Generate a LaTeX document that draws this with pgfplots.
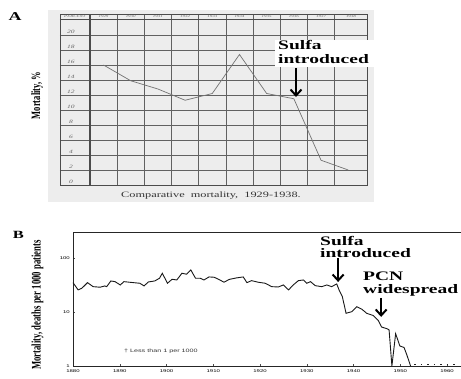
\documentclass[border=0pt]{standalone}
\usepackage{fontspec}
\setmainfont{Liberation Serif}
\newfontfamily\sansf{Liberation Sans}
\usepackage{graphicx}
\usepackage{pgfplots}
\pgfplotsset{compat=1.18}
\usetikzlibrary{arrows.meta}
\newcommand\hs[1]{\scalebox{1.5}[1]{#1}}
\newcommand\tl[1]{\scalebox{1.5}[1]{\sansf\fontsize{4}{4}\selectfont #1}}
\newcommand\al[1]{\scalebox{1.5}[1]{\fontsize{13}{13}\selectfont\bfseries #1}}
\newcommand\gl[1]{\scalebox{1.5}[1]{\fontsize{5}{5}\selectfont\itshape #1}}
\newcommand\hl[1]{\scalebox{1.5}[1]{\fontsize{3.3}{3.3}\selectfont\itshape #1}}

\pgfplotstableread{
year val
1880.0 34.9
1881.1 25.6
1881.9 27.5
1883.1 34.9
1884.3 29.4
1885.8 28.7
1886.8 30.3
1887.2 29.4
1888.1 37.5
1889.0 36.4
1890.1 31.6
1890.9 36.4
1892.9 34.9
1894.3 34.0
1895.2 30.3
1896.1 35.9
1897.5 37.5
1898.5 42.1
1899.1 52.1
1900.2 34.0
1901.2 40.3
1902.2 39.1
1903.3 52.1
1904.3 49.9
1905.2 59.9
1906.2 42.1
1907.2 42.1
1908.0 39.1
1909.1 44.5
1910.2 43.9
1911.4 39.1
1912.3 35.5
1913.4 40.0
1914.9 42.6
1916.4 44.5
1917.2 34.9
1918.2 38.0
1919.6 35.5
1921.1 34.0
1922.5 29.4
1923.9 29.0
1925.0 31.6
1926.1 25.6
1927.1 31.6
1928.2 38.0
1929.3 39.1
1930.0 34.0
1930.8 36.4
1931.8 30.7
1933.2 29.4
1934.3 31.6
1935.3 29.4
1936.4 33.0
1936.9 25.6
1937.6 19.2
1938.4 9.46
1939.6 10.1
1940.7 12.5
1941.8 11.2
1942.8 9.46
1944.2 8.6
1945.3 6.96
1946.0 5.27
1947.3 4.84
1947.6 4.64
1948.2 1.0
1949.0 3.96
1949.9 2.35
1950.8 2.20
1951.4 1.60
1952.2 1.0
}\mortB

\begin{document}
\begin{tikzpicture}
\useasboundingbox (0pt,0pt) rectangle (461pt,379pt);
\fill[white] (0pt,0pt) rectangle (461pt,379pt);
% scanned page background of panel A
\fill[black!7] (48pt,177pt) rectangle (374pt,369pt);

% ---------------- Panel A ----------------
\begin{axis}[
  at={(60pt,194pt)}, anchor=south west, scale only axis,
  width=307pt, height=171pt,
  xmin=1927.4, xmax=1938.69, ymin=0, ymax=22.8,
  axis line style={draw=black!70, line width=0.9pt},
  xtick={1929.5,1930.5,1931.5,1932.5,1933.5,1934.5,1935.5,1936.5,1937.5},
  ytick={2,4,6,8,10,12,14,16,18,20},
  xticklabels={}, yticklabels={},
  major tick length=0pt,
  grid=major,
  major grid style={draw=black!62, line width=0.7pt},
  extra x ticks={1928.5}, extra y ticks={22.07},
  extra x tick labels={}, extra y tick labels={},
  extra tick style={major grid style={draw=black!70, line width=1.6pt}},
  clip=false,
]
\addplot[black!55, line width=0.7pt] coordinates {
 (1929,16.0) (1930,13.9) (1931,12.8) (1932,11.3) (1933,12.2)
 (1934,17.4) (1935,12.2) (1936,11.5) (1937,3.3) (1938,2.0)};
\node[black!60] at (axis cs:1927.95,22.45) {\hl{PERCENT}};
\node[black!60] at (axis cs:1929,22.45) {\hl{1929}};
\node[black!60] at (axis cs:1930,22.45) {\hl{1930}};
\node[black!60] at (axis cs:1931,22.45) {\hl{1931}};
\node[black!60] at (axis cs:1932,22.45) {\hl{1932}};
\node[black!60] at (axis cs:1933,22.45) {\hl{1933}};
\node[black!60] at (axis cs:1934,22.45) {\hl{1934}};
\node[black!60] at (axis cs:1935,22.45) {\hl{1935}};
\node[black!60] at (axis cs:1936,22.45) {\hl{1936}};
\node[black!60] at (axis cs:1937,22.45) {\hl{1937}};
\node[black!60] at (axis cs:1938.1,22.45) {\hl{1938}};
\node[black!60] at (axis cs:1927.8,20.45) {\gl{20}};
\node[black!60] at (axis cs:1927.8,18.45) {\gl{18}};
\node[black!60] at (axis cs:1927.8,16.45) {\gl{16}};
\node[black!60] at (axis cs:1927.8,14.45) {\gl{14}};
\node[black!60] at (axis cs:1927.8,12.45) {\gl{12}};
\node[black!60] at (axis cs:1927.8,10.45) {\gl{10}};
\node[black!60] at (axis cs:1927.8,8.45) {\gl{8}};
\node[black!60] at (axis cs:1927.8,6.45) {\gl{6}};
\node[black!60] at (axis cs:1927.8,4.45) {\gl{4}};
\node[black!60] at (axis cs:1927.8,2.45) {\gl{2}};
\node[black!60] at (axis cs:1927.8,0.45) {\gl{0}};
\end{axis}

% caption of panel A
\node[black!80] at (211pt,183pt) {\scalebox{1.5}[1]{\fontsize{8.2}{9}\selectfont Comparative\ \ mortality,\ \ 1929-1938.}};
% annotation panel A
\fill[white] (275pt,312pt) rectangle (382pt,339pt);
\node[anchor=base west, inner sep=0pt] at (278pt,329pt) {\al{Sulfa}};
\node[anchor=base west, inner sep=0pt] at (278pt,315pt) {\al{introduced}};
\draw[line width=2pt, -{Straight Barb[length=6pt,width=11pt]}] (296pt,311pt) -- (296pt,282pt);

% ---------------- Panel B ----------------
\begin{axis}[
  at={(73pt,13pt)}, anchor=south west, scale only axis,
  width=389.5pt, height=134pt,
  xmin=1880, xmax=1963.3, ymode=log, ymin=1, ymax=302,
  axis line style={black!85, line width=0.8pt},
  xtick={1880,1890,1900,1910,1920,1930,1940,1950,1960},
  xticklabels={\tl{1880},\tl{1890},\tl{1900},\tl{1910},\tl{1920},\tl{1930},\tl{1940},\tl{1950},\tl{1960}},
  ytick={1,10,100},
  yticklabels={\tl{1},\tl{10},\tl{100}},
  xtick pos=bottom, ytick pos=left,
  minor tick length=0pt,
  major tick length=1.5pt,
  tick style={black!70, line width=0.5pt},
  xticklabel style={anchor=center, yshift=-5.5pt, inner sep=0pt},
  yticklabel style={anchor=east, inner sep=0pt, xshift=-3pt},
  clip=false,
]
\addplot[black!90, line width=0.9pt] table[x=year, y=val] {\mortB};
\addplot[black!85, line width=0.8pt, dash pattern=on 1.5pt off 5pt] coordinates {(1953,1.08) (1962.5,1.08)};
\node[black!80] at (axis cs:1898.8,1.9) {\scalebox{1.5}[1]{\sansf\fontsize{4.8}{5}\selectfont \dag\ Less than 1 per 1000}};
\draw[line width=2pt, -{Straight Barb[length=6pt,width=11pt]}] (axis cs:1936.7,100) -- (axis cs:1936.7,35.9);
\draw[line width=2pt, -{Straight Barb[length=6pt,width=11pt]}] (axis cs:1945.9,18.2) -- (axis cs:1945.9,8.1);
\end{axis}

\node[anchor=base west, inner sep=0pt] at (320pt,133pt) {\al{Sulfa}};
\node[anchor=base west, inner sep=0pt] at (320pt,121pt) {\al{introduced}};
\node[anchor=base west, inner sep=0pt] at (363pt,98pt) {\al{PCN}};
\node[anchor=base west, inner sep=0pt] at (363pt,85pt) {\al{widespread}};

% panel letters and y labels
\node at (15pt,362pt) {\scalebox{1.5}[1]{\fontsize{12}{12}\selectfont\bfseries A}};
\node at (18.5pt,144pt) {\scalebox{1.5}[1]{\fontsize{11}{11}\selectfont\bfseries B}};
\node[rotate=90] at (37pt,283.5pt) {\scalebox{1}[1.5]{\fontsize{8.5}{9}\selectfont\bfseries Mortality, \%}};
\node[rotate=90] at (37.5pt,74pt) {\scalebox{1}[1.5]{\fontsize{8.7}{9}\selectfont\bfseries Mortality, deaths per 1000 patients}};
\end{tikzpicture}
\end{document}
